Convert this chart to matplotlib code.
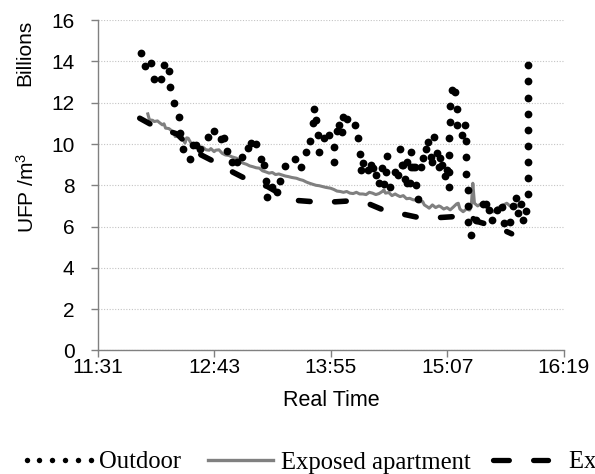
import matplotlib

matplotlib.use("Agg")
import matplotlib.pyplot as plt
import numpy as np
from matplotlib.lines import Line2D
from matplotlib.ticker import FuncFormatter

# Outdoor UFP, billions per m3 (each dot)
outdoor_time = [
    "11:58", "12:00", "12:04", "12:06", "12:10", "12:12", "12:15", "12:16", "12:18", "12:21",
    "12:22", "12:24", "12:28", "12:30", "12:32", "12:34", "12:39", "12:43", "12:47", "12:49",
    "12:51", "12:54", "12:57", "13:00", "13:04", "13:06", "13:09", "13:12", "13:14", "13:15",
    "13:16", "13:19", "13:22", "13:24", "13:27", "13:33", "13:37", "13:40", "13:42", "13:44",
    "13:45", "13:46", "13:47", "13:48", "13:51", "13:54", "13:57", "13:57", "13:59", "14:00",
    "14:02", "14:03", "14:05", "14:10", "14:12", "14:13", "14:14", "14:15", "14:18", "14:20",
    "14:21", "14:23", "14:25", "14:27", "14:28", "14:29", "14:30", "14:32", "14:35", "14:37",
    "14:38", "14:39", "14:40", "14:41", "14:42", "14:42", "14:44", "14:45", "14:45", "14:46",
    "14:47", "14:48", "14:49", "14:51", "14:52", "14:54", "14:55", "14:57", "14:58", "14:59",
    "15:01", "15:02", "15:03", "15:04", "15:06", "15:07", "15:08", "15:08", "15:08", "15:08",
    "15:09", "15:09", "15:10", "15:12", "15:13", "15:13", "15:16", "15:18", "15:19", "15:19",
    "15:19", "15:20", "15:20", "15:20", "15:22", "15:25", "15:29", "15:31", "15:33", "15:35",
    "15:38", "15:41", "15:42", "15:46", "15:48", "15:50", "15:51", "15:53", "15:54", "15:56",
    "15:57", "15:57", "15:57", "15:57", "15:57", "15:57", "15:57", "15:57", "15:57",
]
outdoor_value = [
    14.40, 13.76, 13.92, 13.16, 13.16, 13.84, 13.56, 12.76, 12.01, 11.33,
    10.53, 9.78, 9.29, 9.96, 9.97, 9.75, 10.35, 10.64, 10.24, 10.28,
    9.68, 9.12, 9.12, 9.36, 9.80, 10.04, 10.02, 9.28, 8.96, 8.23,
    7.42, 7.94, 7.68, 8.23, 8.94, 9.28, 8.89, 9.59, 10.15, 11.01,
    11.72, 11.17, 10.44, 9.63, 10.28, 10.46, 9.15, 9.88, 10.65, 10.93,
    10.60, 11.33, 11.20, 10.91, 10.31, 9.54, 8.75, 9.09, 8.75, 8.99,
    8.83, 8.50, 8.13, 8.83, 8.05, 8.66, 9.43, 7.94, 8.64, 8.50,
    9.75, 8.99, 8.99, 8.30, 9.15, 8.13, 8.10, 8.91, 9.59, 8.91,
    8.88, 8.02, 7.33, 8.91, 9.31, 9.75, 10.12, 9.39, 9.15, 10.36,
    9.56, 8.91, 9.31, 8.96, 8.46, 8.75, 7.94, 8.66, 9.47, 10.28,
    11.09, 11.85, 12.64, 12.50, 11.69, 10.93, 10.44, 10.91, 10.14, 9.36,
    8.55, 7.78, 7.00, 6.24, 5.60, 6.32, 7.07, 7.10, 6.81, 6.30,
    6.79, 6.93, 6.18, 6.23, 7.00, 7.37, 6.66, 7.07, 6.31, 6.77,
    7.57, 8.33, 9.12, 9.91, 10.69, 11.46, 12.25, 13.05, 13.84,
]

# Exposed apartment (grey line)
apartment_time = [
    "12:02", "12:03", "12:05", "12:06", "12:08", "12:09", "12:11", "12:12", "12:13", "12:15",
    "12:16", "12:18", "12:19", "12:21", "12:22", "12:24", "12:25", "12:26", "12:27", "12:29",
    "12:30", "12:32", "12:34", "12:36", "12:38", "12:40", "12:41", "12:43", "12:44", "12:46",
    "12:48", "12:50", "12:52", "12:54", "12:57", "12:59", "13:01", "13:03", "13:05", "13:07",
    "13:09", "13:11", "13:13", "13:15", "13:17", "13:19", "13:21", "13:23", "13:25", "13:27",
    "13:29", "13:31", "13:34", "13:36", "13:38", "13:40", "13:42", "13:44", "13:46", "13:48",
    "13:50", "13:52", "13:55", "13:57", "13:59", "14:01", "14:03", "14:05", "14:07", "14:09",
    "14:11", "14:13", "14:15", "14:17", "14:19", "14:21", "14:23", "14:25", "14:27", "14:28",
    "14:29", "14:31", "14:33", "14:35", "14:36", "14:38", "14:40", "14:42", "14:44", "14:46",
    "14:48", "14:50", "14:52", "14:53", "14:55", "14:56", "14:58", "15:00", "15:02", "15:03",
    "15:05", "15:07", "15:09", "15:11", "15:13", "15:14", "15:15", "15:17", "15:19", "15:21",
    "15:22", "15:23", "15:24", "15:26", "15:28", "15:29", "15:31", "15:33", "15:35", "15:36",
    "15:38", "15:40", "15:42", "15:44", "15:46", "15:48", "15:50", "15:51",
]
apartment_value = [
    11.46, 11.17, 11.15, 11.09, 11.12, 11.05, 10.93, 10.98, 10.77, 10.75,
    10.69, 10.55, 10.36, 10.42, 10.28, 10.20, 10.05, 10.30, 10.28, 10.00,
    9.95, 9.88, 9.80, 9.85, 9.72, 9.70, 9.78, 9.63, 9.70, 9.72,
    9.55, 9.47, 9.45, 9.38, 9.31, 9.15, 9.07, 9.02, 8.94, 8.90,
    8.85, 8.83, 8.70, 8.65, 8.59, 8.62, 8.52, 8.55, 8.50, 8.45,
    8.42, 8.38, 8.34, 8.28, 8.24, 8.16, 8.10, 8.05, 8.00, 7.98,
    7.94, 7.90, 7.86, 7.80, 7.72, 7.70, 7.66, 7.70, 7.62, 7.60,
    7.66, 7.58, 7.58, 7.55, 7.66, 7.62, 7.55, 7.60, 7.70, 7.78,
    7.62, 7.65, 7.50, 7.58, 7.53, 7.45, 7.50, 7.35, 7.37, 7.30,
    7.28, 7.20, 7.21, 7.05, 6.95, 6.89, 7.05, 6.92, 7.00, 6.97,
    6.85, 6.92, 6.81, 6.95, 7.10, 7.13, 6.85, 6.72, 6.85, 6.80,
    6.95, 8.10, 7.13, 7.00, 7.10, 7.05, 6.95, 6.85, 6.72, 6.72,
    6.90, 6.97, 7.05, 7.13, 7.00, 6.97, 7.05, 6.98,
]

# Third series (black long dash), label truncated in the source figure
third_time = [
    "11:57", "12:06", "12:20", "12:28", "12:35", "12:45", "12:55", "13:04", "13:16", "13:24",
    "13:35", "13:45", "13:58", "14:08", "14:19", "14:29", "14:40", "14:50", "15:01", "15:11",
    "15:17", "15:26", "15:38", "15:47",
]
third_value = [
    11.25, 10.86, 10.49, 9.88, 9.47, 9.07, 8.62, 8.26, 7.94, 7.58,
    7.26, 7.20, 7.20, 7.25, 7.09, 6.76, 6.60, 6.43, 6.43, 6.48,
    6.72, 6.24, 5.97, 5.65,
]

series_labels = ["Outdoor", "Exposed apartment", "Exposed apartment (modelled)"]

# Excel-style time axis: day fractions 0.48 .. 0.68, major unit 0.05
x_days = (0.48, 0.68)
x_step_days = 0.05
y_ticks = [0, 2, 4, 6, 8, 10, 12, 14, 16]


def to_minutes(hhmm: str) -> int:
    h, m = hhmm.split(":")
    return int(h) * 60 + int(m)


def clock(m, _pos=None) -> str:
    m = int(round(m * 1000) // 1000)
    return f"{m // 60}:{m % 60:02d}"


plt.rcParams["font.family"] = "Liberation Sans"
plt.rcParams["mathtext.default"] = "regular"

W, H = 595, 474
fig = plt.figure(figsize=(W / 100, H / 100), dpi=100)
ax = fig.add_axes([98 / W, 1 - 350.4 / H, 465.7 / W, 330.2 / H])

ax.plot([to_minutes(t) for t in apartment_time], apartment_value,
        color="#808080", lw=2.2, zorder=2)
ax.plot([to_minutes(t) for t in third_time], third_value,
        color="black", lw=4.0, ls=(0, (2.1, 4.4)), dash_capstyle="round", zorder=3)
ax.plot([to_minutes(t) for t in outdoor_time], outdoor_value,
        ls="none", marker="o", ms=5.6, mew=0, color="black", zorder=4)

ax.set_xlim(x_days[0] * 1440, x_days[1] * 1440)
ax.set_xticks(np.arange(x_days[0], x_days[1] + 1e-9, x_step_days) * 1440)
ax.xaxis.set_major_formatter(FuncFormatter(clock))
ax.set_ylim(0, 16)
ax.set_yticks(y_ticks)

for side in ("top", "right"):
    ax.spines[side].set_visible(False)
for side in ("left", "bottom"):
    ax.spines[side].set_color("#808080")
    ax.spines[side].set_linewidth(1.0)

ax.tick_params(axis="both", direction="out", length=5, width=1,
               color="#808080", labelsize=15)
ax.tick_params(axis="y", pad=12)
ax.tick_params(axis="x", pad=0.5)
ax.yaxis.grid(True, ls=(0, (1, 1.5)), color="#c4c4c4", lw=0.8)
ax.set_axisbelow(True)

fig.text(25 / W, 1 - 20 / H, "Billions", rotation=90, ha="center", va="top", fontsize=15)
fig.text(27 / W, 1 - 193 / H, "UFP /m$^3$", rotation=90, ha="center", va="center", fontsize=15)
fig.text(331 / W, 1 - 400 / H, "Real Time", ha="center", va="center", fontsize=15.5)

# legend drawn by hand, laid out in figure pixels like the Excel legend
leg_y = 1 - 460 / H
leg_font = {"family": "Liberation Serif", "size": 17.7}
dot_x = np.linspace(26.6, 91, 6) / W
handles = [
    Line2D(dot_x, [leg_y] * len(dot_x), ls="none", marker="o", ms=3.9, mew=0,
           color="black"),
    Line2D([208 / W, 273 / W], [leg_y, leg_y], color="#808080", lw=2.4),
    Line2D([492.6 / W, 548.4 / W], [leg_y, leg_y], color="black", lw=3.8,
           ls=(0, (3.0, 4.6)), dash_capstyle="round"),
]
for h in handles:
    h.set_transform(fig.transFigure)
    fig.add_artist(h)
for x, label in zip([99, 281, 569], series_labels):
    fig.text(x / W, leg_y, label, ha="left", va="center_baseline", fontdict=leg_font)

fig.savefig("out.png", dpi=100)
